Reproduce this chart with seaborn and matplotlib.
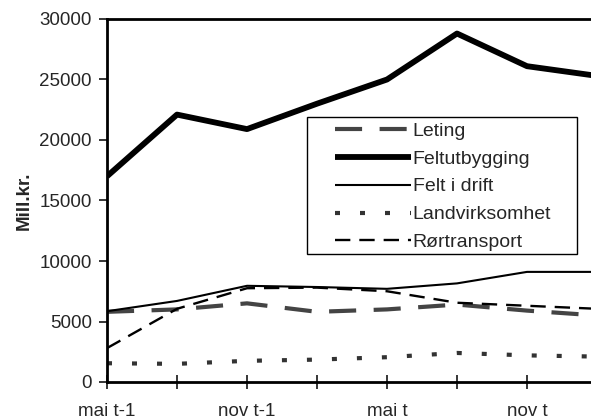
import pandas as pd
import matplotlib
matplotlib.use("Agg")
import matplotlib.pyplot as plt
from matplotlib.patches import Rectangle
import seaborn as sns

# ------------------ data ------------------
periods = ["mai t-1", "aug t-1", "nov t-1", "feb t", "mai t", "aug t", "nov t", "feb t+1"]
tick_labels = ["mai t-1", "", "nov t-1", "", "mai t", "", "nov t", ""]

leting = [5800, 6000, 6500, 5800, 6000, 6400, 5900, 5500]
feltutbygging = [17000, 22100, 20900, 23000, 25000, 28800, 26100, 25300]
felt_i_drift = [5850, 6700, 7950, 7850, 7700, 8150, 9100, 9100]
landvirksomhet = [1550, 1500, 1750, 1850, 2050, 2400, 2200, 2100]
rortransport = [2800, 6050, 7750, 7800, 7500, 6550, 6300, 6050]

series = {
    "Leting": leting,
    "Feltutbygging": feltutbygging,
    "Felt i drift": felt_i_drift,
    "Landvirksomhet": landvirksomhet,
    "Rørtransport": rortransport,
}

# line looks per series
styles = {
    "Leting": dict(color="#444444", linewidth=3.0, linestyle=(0, (6.5, 4.2))),
    "Feltutbygging": dict(color="black", linewidth=4.2, linestyle="-"),
    "Felt i drift": dict(color="black", linewidth=1.5, linestyle="-"),
    "Landvirksomhet": dict(color="#333333", linewidth=3.0, linestyle=(0, (1.2, 4.8))),
    "Rørtransport": dict(color="black", linewidth=1.7, linestyle=(0, (6.5, 3.8))),
}

rows = []
for name, vals in series.items():
    for i, v in enumerate(vals):
        rows.append({"x": i, "value": v, "serie": name})
df = pd.DataFrame(rows)

sns.set_style("ticks")
plt.rcParams["font.family"] = ["Liberation Sans", "DejaVu Sans"]

W, H = 591, 416
fig = plt.figure(figsize=(W / 100, H / 100), dpi=100)
# axes: left spine at x=107px, bottom at y=382px, top at y=19px, 70px per period
ax = fig.add_axes([107 / W, 1 - 382 / H, 490 / W, (382 - 19) / H])

for name in series:
    sns.lineplot(data=df[df["serie"] == name], x="x", y="value", ax=ax,
                 label=name, solid_capstyle="butt", dash_capstyle="butt",
                 **styles[name])

ax.set_xlim(0, 7)
ax.set_ylim(0, 30000)
ax.set_yticks(range(0, 30001, 5000))
ax.set_xticks(range(len(periods)))
ax.set_xticklabels(tick_labels)
ax.tick_params(axis="x", direction="inout", length=10, width=1.3, pad=10, labelsize=13.5)
ax.tick_params(axis="y", direction="out", length=6, width=1.3, pad=5, labelsize=13.5)
ax.set_xlabel("")
ax.set_ylabel("Mill.kr.", fontsize=13.5, fontweight="bold", labelpad=5)

for s in ["left", "bottom", "top"]:
    ax.spines[s].set_visible(True)
    ax.spines[s].set_linewidth(2)
    ax.spines[s].set_color("black")
ax.spines["right"].set_visible(False)

# legend without frame, frame drawn as a plain box behind it
leg = ax.legend(loc="upper left", bbox_to_anchor=(335 / W, 1 - 122 / H),
                bbox_transform=fig.transFigure, frameon=False, fontsize=14,
                handlelength=3.9, handletextpad=0.1, labelspacing=0.53,
                borderpad=0, borderaxespad=0)
leg.set_zorder(6)
box = Rectangle((307 / W, 1 - 254 / H), 270 / W, 137 / H,
                transform=fig.transFigure, facecolor="white", edgecolor="black",
                linewidth=1.0, zorder=5, clip_on=False)
ax.add_patch(box)

fig.savefig("out.png", dpi=100)
